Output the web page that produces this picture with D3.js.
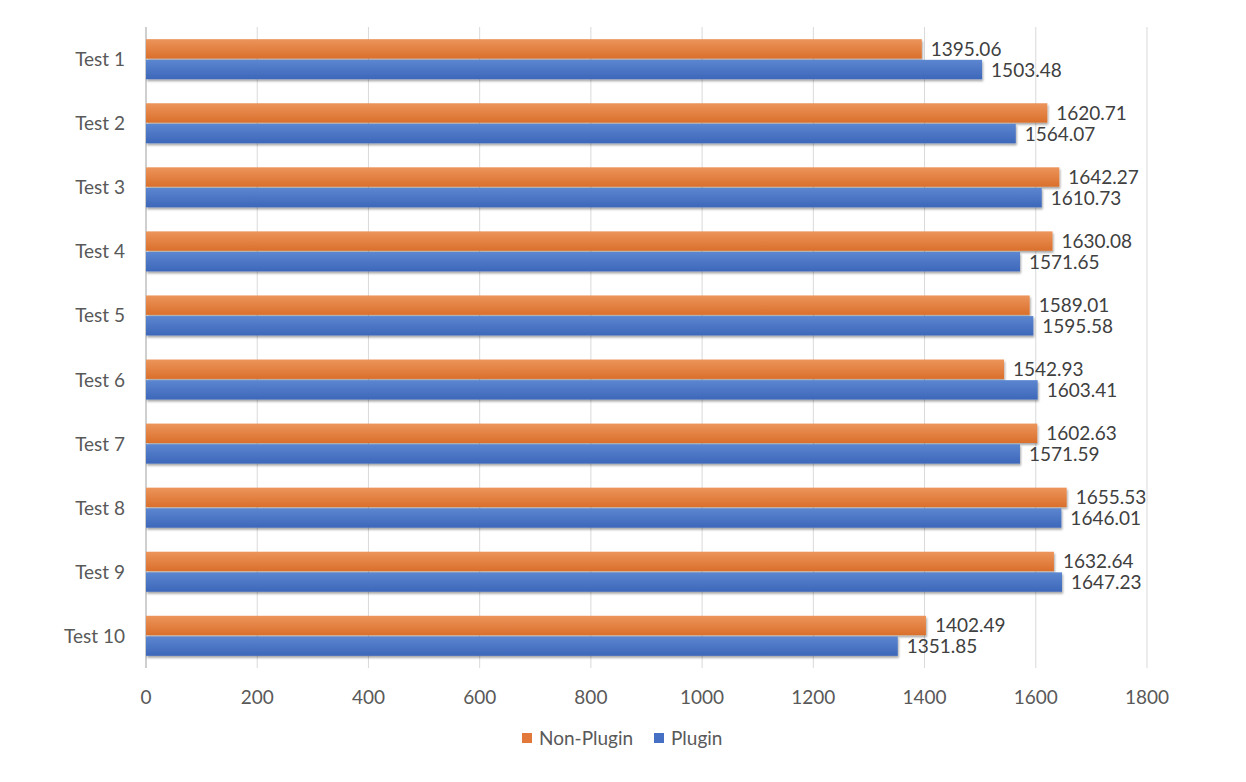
<!DOCTYPE html>
<html>
<head>
<meta charset="utf-8">
<script src="https://cdn.jsdelivr.net/npm/d3@7"></script>
<style>
  body { margin: 0; background: #fff; }
  text { font-family: Lato, "Open Sans", sans-serif; }
</style>
</head>
<body>
<div id="chart"></div>
<script>
var categories = ["Test 1", "Test 2", "Test 3", "Test 4", "Test 5", "Test 6", "Test 7", "Test 8", "Test 9", "Test 10"];
var nonPlugin = [1395.06, 1620.71, 1642.27, 1630.08, 1589.01, 1542.93, 1602.63, 1655.53, 1632.64, 1402.49];
var plugin = [1503.48, 1564.07, 1610.73, 1571.65, 1595.58, 1603.41, 1571.59, 1646.01, 1647.23, 1351.85];
var xTicks = [0, 200, 400, 600, 800, 1000, 1200, 1400, 1600, 1800];
var seriesNames = ["Non-Plugin", "Plugin"];

var width = 1246;
var height = 782;
var margin = {top: 27, right: 99, bottom: 114, left: 146};

var svg = d3.select("#chart")
  .append("svg")
  .attr("width", width)
  .attr("height", height);

var defs = svg.append("defs");
//bar gradients
function addGradient(id, c1, c2) {
  var g = defs.append("linearGradient")
    .attr("id", id)
    .attr("x1", 0).attr("y1", 0).attr("x2", 0).attr("y2", 1);
  g.append("stop").attr("offset", "0%").attr("stop-color", c1);
  g.append("stop").attr("offset", "100%").attr("stop-color", c2);
}
addGradient("gradOrange", "#EC955B", "#DA6F2C");
addGradient("gradBlue", "#5C86D0", "#3D67B9");

var shadow = defs.append("filter")
  .attr("id", "shadow")
  .attr("x", "-5%").attr("y", "-20%").attr("width", "110%").attr("height", "160%");
shadow.append("feDropShadow")
  .attr("dx", 1).attr("dy", 2).attr("stdDeviation", 1.2)
  .attr("flood-color", "#000").attr("flood-opacity", 0.35);

var x = d3.scaleLinear()
  .domain([0, 1800])
  .range([margin.left, width - margin.right]);

var y = d3.scaleBand()
  .domain(categories)
  .range([margin.top, height - margin.bottom])
  .paddingInner(0.375)
  .paddingOuter(0.19);

var ySub = d3.scaleBand()
  .domain(seriesNames)
  .range([0, y.bandwidth()])
  .paddingInner(0.06);

//gridlines
svg.append("g")
  .selectAll("line")
  .data(xTicks.slice(1))
  .enter().append("line")
  .attr("x1", function(d) { return x(d); })
  .attr("x2", function(d) { return x(d); })
  .attr("y1", margin.top)
  .attr("y2", height - margin.bottom)
  .attr("stroke", "#d9d9d9")
  .attr("stroke-width", 1);

//left axis line
svg.append("line")
  .attr("x1", x(0)).attr("x2", x(0))
  .attr("y1", margin.top).attr("y2", height - margin.bottom)
  .attr("stroke", "#bfbfbf")
  .attr("stroke-width", 1.5);

//x tick labels
svg.append("g")
  .selectAll("text")
  .data(xTicks)
  .enter().append("text")
  .attr("x", function(d) { return x(d); })
  .attr("y", 704)
  .attr("text-anchor", "middle")
  .attr("font-size", 19)
  .attr("fill", "#595959")
  .text(function(d) { return d; });

//category labels
svg.append("g")
  .selectAll("text")
  .data(categories)
  .enter().append("text")
  .attr("x", 125)
  .attr("y", function(d) { return y(d) + y.bandwidth() / 2 + 7; })
  .attr("text-anchor", "end")
  .attr("font-size", 19)
  .attr("fill", "#595959")
  .text(function(d) { return d; });

var rows = categories.map(function(c, i) {
  return [
    {cat: c, series: "Non-Plugin", value: nonPlugin[i], fill: "url(#gradOrange)"},
    {cat: c, series: "Plugin", value: plugin[i], fill: "url(#gradBlue)"}
  ];
});
var flat = [].concat.apply([], rows);

//bars
svg.append("g")
  .selectAll("rect")
  .data(flat)
  .enter().append("rect")
  .attr("x", x(0))
  .attr("y", function(d) { return y(d.cat) + ySub(d.series); })
  .attr("width", function(d) { return x(d.value) - x(0); })
  .attr("height", ySub.bandwidth())
  .attr("fill", function(d) { return d.fill; })
  .attr("filter", "url(#shadow)");

//value labels
svg.append("g")
  .selectAll("text")
  .data(flat)
  .enter().append("text")
  .attr("x", function(d) { return x(d.value) + 9; })
  .attr("y", function(d) { return y(d.cat) + ySub(d.series) + ySub.bandwidth() / 2 + 7; })
  .attr("font-size", 19)
  .attr("fill", "#404040")
  .text(function(d) { return d.value.toFixed(2); });

//legend
var legendColors = ["#E2793A", "#4670C4"];
var legendX = [522, 654];
var legend = svg.append("g");
seriesNames.forEach(function(name, i) {
  legend.append("rect")
    .attr("x", legendX[i]).attr("y", 733)
    .attr("width", 10).attr("height", 10)
    .attr("fill", legendColors[i]);
  legend.append("text")
    .attr("x", legendX[i] + 17).attr("y", 745)
    .attr("font-size", 19)
    .attr("fill", "#595959")
    .text(name);
});
</script>
</body>
</html>
